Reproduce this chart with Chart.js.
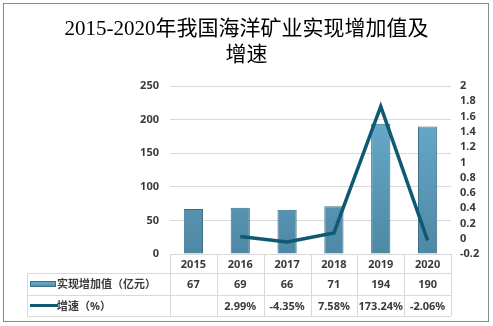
<!DOCTYPE html>
<html lang="zh">
<head>
<meta charset="UTF-8">
<title>2015-2020年我国海洋矿业实现增加值及增速</title>
<script src="https://cdn.jsdelivr.net/npm/chart.js@4"></script>
<style>
  html, body { margin: 0; padding: 0; background: #fff; }
  #wrap { width: 493px; height: 326px; position: relative; }
</style>
</head>
<body>
<div id="wrap"><canvas id="myChart" width="493" height="326"></canvas></div>
<script>
const years = ['2015', '2016', '2017', '2018', '2019', '2020'];
const addedValue = [67, 69, 66, 71, 194, 190];           // 实现增加值（亿元）
const growthPct = [null, 2.99, -4.35, 7.58, 173.24, -2.06]; // 增速（%）
const growthRatio = growthPct.map(v => v === null ? null : v / 100);

const barLabel = '实现增加值（亿元）';
const lineLabel = '增速（%）';
const lineColor = '#0f5a72';
const gridColor = '#d9d9d9';
const textColor = '#3a3a3a';
const tickFont = { family: "'Noto Sans', 'Noto Sans CJK SC', sans-serif", size: 11, weight: 'bold' };

// table under the plot, legend column on the left
const dataTable = {
  id: 'dataTable',
  afterDraw(chart) {
    const { ctx, chartArea, scales } = chart;
    const x = scales.x;
    const top = chartArea.bottom;
    const rows = [top, top + 19, top + 41, top + 62];
    const legendLeft = 27;
    const step = (chartArea.right - chartArea.left) / years.length;
    ctx.save();
    ctx.strokeStyle = gridColor;
    ctx.lineWidth = 1;
    ctx.beginPath();
    // horizontal lines
    ctx.moveTo(chartArea.left, rows[0] + 0.5); ctx.lineTo(chartArea.right, rows[0] + 0.5);
    for (let r = 1; r < rows.length; r++) {
      ctx.moveTo(legendLeft, rows[r] + 0.5); ctx.lineTo(chartArea.right, rows[r] + 0.5);
    }
    // vertical lines
    for (let i = 0; i <= years.length; i++) {
      const px = Math.round(chartArea.left + step * i) + 0.5;
      ctx.moveTo(px, rows[0]); ctx.lineTo(px, rows[3]);
    }
    ctx.moveTo(legendLeft + 0.5, rows[1]); ctx.lineTo(legendLeft + 0.5, rows[3]);
    ctx.stroke();

    ctx.fillStyle = textColor;
    ctx.font = "bold 11px 'Noto Sans', 'Noto Sans CJK SC', sans-serif";
    ctx.textAlign = 'center';
    ctx.textBaseline = 'middle';
    years.forEach((y, i) => {
      const cx = x.getPixelForValue(i);
      ctx.fillText(y, cx, (rows[0] + rows[1]) / 2 + 1);
      ctx.fillText(String(addedValue[i]), cx, (rows[1] + rows[2]) / 2 + 1);
      if (growthPct[i] !== null) {
        ctx.fillText(growthPct[i].toFixed(2) + '%', cx, (rows[2] + rows[3]) / 2 + 1);
      }
    });

    // legend keys
    const r2 = (rows[1] + rows[2]) / 2;
    const r3 = (rows[2] + rows[3]) / 2;
    const g = ctx.createLinearGradient(0, r2 - 3, 0, r2 + 3);
    g.addColorStop(0, '#6cb1d2');
    g.addColorStop(1, '#4d88a3');
    ctx.fillStyle = g;
    ctx.fillRect(30, r2 - 3, 26, 6);
    ctx.strokeStyle = '#3d6e85';
    ctx.strokeRect(30.5, r2 - 2.5, 25, 5);
    ctx.strokeStyle = lineColor;
    ctx.lineWidth = 3;
    ctx.beginPath();
    ctx.moveTo(30, r3); ctx.lineTo(58, r3);
    ctx.stroke();

    ctx.fillStyle = textColor;
    ctx.textAlign = 'left';
    ctx.fillText(barLabel, 57, r2 + 1);
    ctx.fillText(lineLabel, 57, r3 + 1);

    // outer frame
    ctx.strokeStyle = '#898989';
    ctx.lineWidth = 1;
    ctx.strokeRect(3.5, 3.5, 485, 318);
    ctx.restore();
  }
};

function barGradient(context) {
  const { chart } = context;
  const area = chart.chartArea;
  if (!area) return '#5d9fbf';
  const g = chart.ctx.createLinearGradient(0, area.top, 0, area.bottom);
  g.addColorStop(0, '#6cb1d2');
  g.addColorStop(1, '#4e88a4');
  return g;
}

const ctx = document.getElementById('myChart').getContext('2d');
const myChart = new Chart(ctx, {
  data: {
    labels: years,
    datasets: [{
      type: 'line',
      label: lineLabel,
      data: growthRatio,
      yAxisID: 'y1',
      borderColor: lineColor,
      borderWidth: 3.5,
      pointRadius: 0,
      tension: 0,
      order: 0
    }, {
      type: 'bar',
      label: barLabel,
      data: addedValue,
      yAxisID: 'y',
      backgroundColor: barGradient,
      borderColor: '#3d6e85',
      borderWidth: 1,
      barPercentage: 0.41,
      categoryPercentage: 1,
      order: 1
    }]
  },
  options: {
    responsive: false,
    animation: false,
    layout: { padding: { left: 0, right: 0, top: 0, bottom: 0 } },
    plugins: {
      legend: { display: false },
      tooltip: { enabled: false },
      title: {
        display: true,
        text: ['2015-2020年我国海洋矿业实现增加值及', '增速'],
        color: '#000',
        font: { family: "'Liberation Serif', 'Noto Sans CJK SC', serif", size: 21, weight: 'normal', lineHeight: 1.24 },
        padding: { top: 16, bottom: 18 }
      }
    },
    scales: {
      x: {
        grid: { display: false },
        border: { display: false },
        ticks: { display: false },
        afterFit(scale) { scale.height = 72; }
      },
      y: {
        position: 'left',
        min: 0,
        max: 250,
        ticks: { stepSize: 50, color: textColor, font: tickFont, padding: 11 },
        grid: { color: gridColor, drawTicks: false },
        border: { display: false },
        afterFit(scale) { scale.width = 170; }
      },
      y1: {
        position: 'right',
        min: -0.2,
        max: 2,
        ticks: {
          stepSize: 0.2,
          autoSkip: false,
          color: textColor,
          font: tickFont,
          padding: 9,
          callback: v => String(Math.round(v * 10) / 10)
        },
        grid: { display: false, drawTicks: false },
        border: { display: false },
        afterFit(scale) { scale.width = 42; }
      }
    }
  },
  plugins: [dataTable]
});
</script>
</body>
</html>
